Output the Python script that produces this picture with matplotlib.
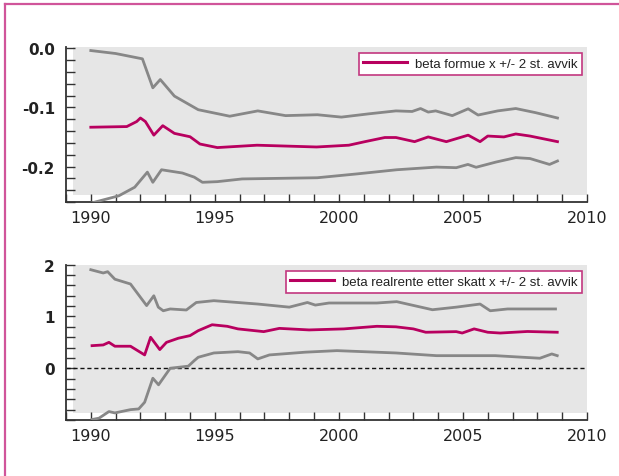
import matplotlib
matplotlib.use("Agg")
import matplotlib.pyplot as plt
from matplotlib.patches import Rectangle
from matplotlib.lines import Line2D
from matplotlib.ticker import FixedLocator, MultipleLocator

# ---- data: beta for wealth (formue) with +/- 2 standard deviations ----
t_w_upper = [1990.0, 1991.0, 1992.08, 1992.5, 1992.8, 1993.37, 1994.33, 1995.6, 1996.73,
             1997.85, 1999.13, 2000.1, 2001.2, 2002.3, 2002.95, 2003.29, 2003.6, 2003.9,
             2004.57, 2005.21, 2005.61, 2006.4, 2007.13, 2007.93, 2008.81]
w_upper = [-0.004, -0.009, -0.018, -0.067, -0.053, -0.081, -0.104, -0.115, -0.106,
           -0.114, -0.1125, -0.1165, -0.111, -0.106, -0.107, -0.102, -0.108, -0.106,
           -0.114, -0.1025, -0.113, -0.106, -0.102, -0.109, -0.118]

t_w_beta = [1990.0, 1991.45, 1991.85, 1992.0, 1992.2, 1992.54, 1992.9, 1993.37, 1994.0,
            1994.4, 1995.1, 1996.7, 1999.1, 2000.4, 2001.05, 2001.85, 2002.3, 2003.05,
            2003.6, 2004.33, 2005.21, 2005.69, 2006.0, 2006.65, 2007.13, 2007.7, 2008.81]
w_beta = [-0.1336, -0.1325, -0.124, -0.118, -0.124, -0.147, -0.131, -0.144, -0.1497,
          -0.162, -0.168, -0.164, -0.167, -0.164, -0.158, -0.151, -0.151, -0.158,
          -0.150, -0.158, -0.147, -0.158, -0.1485, -0.150, -0.145, -0.1485, -0.158]

t_w_lower = [1990.0, 1991.13, 1991.77, 1992.28, 1992.5, 1992.85, 1993.69, 1994.17, 1994.5,
             1995.1, 1996.1, 1999.13, 2000.73, 2002.33, 2003.93, 2004.73, 2005.2, 2005.53,
             2006.33, 2007.13, 2007.7, 2008.49, 2008.81]
w_lower = [-0.262, -0.2495, -0.235, -0.2095, -0.2267, -0.2055, -0.211, -0.218, -0.2267,
           -0.2256, -0.221, -0.219, -0.2125, -0.2055, -0.201, -0.202, -0.1965, -0.2013,
           -0.1925, -0.185, -0.1865, -0.1965, -0.1907]

# ---- data: beta for real interest rate after tax with +/- 2 standard deviations ----
t_r_upper = [1990.0, 1990.5, 1990.68, 1990.97, 1991.6, 1992.25, 1992.54, 1992.72, 1992.92,
             1993.2, 1993.85, 1994.25, 1994.96, 1996.73, 1998.0, 1998.73, 1999.05, 1999.6,
             2001.53, 2002.33, 2003.77, 2004.73, 2005.69, 2006.1, 2006.8, 2008.73]
r_upper = [1.903, 1.84, 1.865, 1.72, 1.627, 1.21, 1.40, 1.18, 1.11,
           1.145, 1.125, 1.27, 1.305, 1.24, 1.18, 1.27, 1.22, 1.26,
           1.26, 1.286, 1.13, 1.18, 1.24, 1.11, 1.145, 1.145]

t_r_beta = [1990.05, 1990.5, 1990.73, 1990.97, 1991.6, 1992.17, 1992.41, 1992.78, 1993.05,
            1993.53, 1994.0, 1994.33, 1994.89, 1995.5, 1995.93, 1996.97, 1997.6, 1998.8,
            2000.2, 2001.53, 2002.3, 2003.0, 2003.5, 2004.73, 2004.97, 2005.45, 2006.0,
            2006.5, 2007.6, 2008.8]
r_beta = [0.436, 0.45, 0.50, 0.425, 0.425, 0.257, 0.598, 0.36, 0.50,
          0.58, 0.63, 0.726, 0.84, 0.81, 0.76, 0.707, 0.77, 0.74,
          0.76, 0.81, 0.80, 0.76, 0.695, 0.707, 0.68, 0.76, 0.695,
          0.68, 0.71, 0.695]

t_r_lower = [1990.05, 1990.33, 1990.73, 1990.97, 1991.6, 1991.93, 1992.17, 1992.5, 1992.73,
             1993.2, 1993.93, 1994.17, 1994.33, 1994.96, 1995.93, 1996.4, 1996.73, 1997.2,
             1998.64, 1999.92, 2002.3, 2003.93, 2006.3, 2008.1, 2008.58, 2008.8]
r_lower = [-0.99, -0.965, -0.837, -0.863, -0.80, -0.786, -0.657, -0.193, -0.32,
           0.0, 0.04, 0.147, 0.212, 0.295, 0.32, 0.295, 0.18, 0.257,
           0.31, 0.34, 0.295, 0.243, 0.243, 0.193, 0.276, 0.243]

legend_top = "beta formue x +/- 2 st. avvik"
legend_bottom = "beta realrente etter skatt x +/- 2 st. avvik"
year_labels = [1990, 1995, 2000, 2005, 2010]

# ---- styling ----
MAGENTA = "#b8005f"
FRAME = "#d0559a"
GREY_LINE = "#878787"
PANEL = "#e6e6e6"
INK = "#222222"

W, H = 619, 477
fig = plt.figure(figsize=(W / 100, H / 100), dpi=100)
fig.patch.set_facecolor("white")

# pink frame (left and top edges)
fig.add_artist(Line2D([5 / W, 5 / W], [0, 1 - 5 / H], transform=fig.transFigure,
                      color=FRAME, lw=1.6))
fig.add_artist(Line2D([5 / W, 1], [1 - 5 / H, 1 - 5 / H], transform=fig.transFigure,
                      color=FRAME, lw=1.6))


def make_axes(top_px, bottom_px):
    left_px, right_px = 66, 587
    ax = fig.add_axes([left_px / W, 1 - bottom_px / H,
                       (right_px - left_px) / W, (bottom_px - top_px) / H])
    ax.set_facecolor("white")
    # grey plotting field inset from the spines
    gx = 7 / (right_px - left_px)
    gy = 7 / (bottom_px - top_px)
    ax.add_patch(Rectangle((gx, gy), 1 - gx, 1 - gy, transform=ax.transAxes,
                           facecolor=PANEL, edgecolor="none", zorder=0))
    for s in ("top", "right"):
        ax.spines[s].set_visible(False)
    for s in ("left", "bottom"):
        ax.spines[s].set_color("#333333")
        ax.spines[s].set_linewidth(1.3)
    ax.set_xlim(1989, 2010)
    ax.xaxis.set_major_locator(FixedLocator(year_labels))
    ax.xaxis.set_minor_locator(MultipleLocator(1))
    ax.set_xticklabels([str(y) for y in year_labels])
    ax.tick_params(axis="x", which="both", direction="in", length=5.5, width=1,
                   color="#333333", pad=6)
    ax.tick_params(axis="x", which="major", labelsize=11.5, labelcolor=INK)
    ax.tick_params(axis="y", which="both", direction="in", length=6.5, width=1,
                   color="#333333", pad=8)
    for lab in ax.get_xticklabels():
        lab.set_fontfamily("DejaVu Sans")
    return ax


def add_legend(ax, text, anchor):
    h = Line2D([], [], color=MAGENTA, lw=2.2)
    leg = ax.legend([h], [text], loc="upper right", bbox_to_anchor=anchor,
                    frameon=True, fancybox=False, handlelength=3.3,
                    handletextpad=0.6, borderpad=0.35, borderaxespad=0,
                    prop={"family": ["Liberation Sans", "DejaVu Sans"], "size": 9.5})
    fr = leg.get_frame()
    fr.set_edgecolor("#c2377f")
    fr.set_linewidth(1.2)
    fr.set_facecolor("white")
    fr.set_alpha(1)
    for txt in leg.get_texts():
        txt.set_color(INK)


def style_ylabels(ax, labels):
    ax.set_yticklabels(labels)
    for lab in ax.get_yticklabels():
        lab.set_fontfamily("DejaVu Sans")
        lab.set_fontweight("bold")
        lab.set_fontsize(11)
        lab.set_color(INK)


# ---- top panel ----
ax1 = make_axes(48, 203)
ax1.plot(t_w_upper, w_upper, color=GREY_LINE, lw=2.0, solid_joinstyle="round", zorder=3)
ax1.plot(t_w_lower, w_lower, color=GREY_LINE, lw=2.0, solid_joinstyle="round", zorder=3)
ax1.plot(t_w_beta, w_beta, color=MAGENTA, lw=2.0, solid_joinstyle="round", zorder=4)
ax1.set_ylim(-0.26, 0.002)
ax1.yaxis.set_major_locator(FixedLocator([0.0, -0.1, -0.2]))
ax1.yaxis.set_minor_locator(FixedLocator([-0.02 * k for k in range(14)]))
style_ylabels(ax1, ["0.0", "-0.1", "-0.2"])
add_legend(ax1, legend_top, (0.990, 0.961))

# ---- bottom panel ----
ax2 = make_axes(265.7, 421)
ax2.axhline(0, color="#111111", lw=1.0, ls=(0, (3, 2)), zorder=2)
ax2.plot(t_r_upper, r_upper, color=GREY_LINE, lw=2.0, solid_joinstyle="round", zorder=3)
ax2.plot(t_r_lower, r_lower, color=GREY_LINE, lw=2.0, solid_joinstyle="round", zorder=3)
ax2.plot(t_r_beta, r_beta, color=MAGENTA, lw=2.0, solid_joinstyle="round", zorder=4)
ax2.set_ylim(-1.0, 2.0)
ax2.yaxis.set_major_locator(FixedLocator([0, 1, 2]))
ax2.yaxis.set_minor_locator(FixedLocator([-1.0 + 0.2 * k for k in range(16)]))
style_ylabels(ax2, ["0", "1", "2"])
add_legend(ax2, legend_bottom, (0.990, 0.959))

fig.savefig("out.png", dpi=100, facecolor="white")
